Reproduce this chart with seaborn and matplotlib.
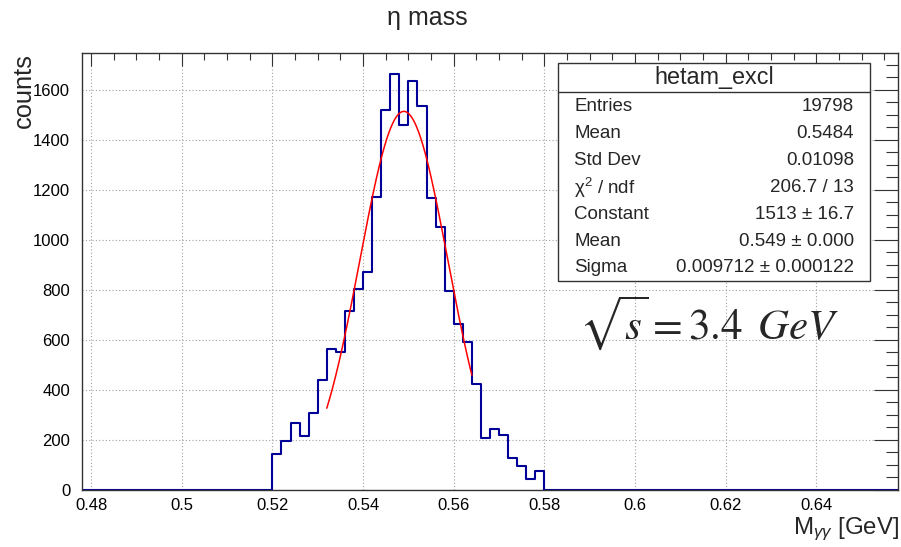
import numpy as np
import pandas as pd
import matplotlib
matplotlib.use("Agg")
import matplotlib.pyplot as plt
from matplotlib.patches import Rectangle
from matplotlib.lines import Line2D
from matplotlib.ticker import MultipleLocator
import seaborn as sns

# ---- data ----
bin_centers = [0.521, 0.523, 0.525, 0.527, 0.529, 0.531, 0.533, 0.535, 0.537, 0.539,
               0.541, 0.543, 0.545, 0.547, 0.549, 0.551, 0.553, 0.555, 0.557, 0.559,
               0.561, 0.563, 0.565, 0.567, 0.569, 0.571, 0.573, 0.575, 0.577, 0.579]
counts = [143, 196, 267, 216, 307, 440, 565, 553, 717, 805,
          872, 1172, 1520, 1663, 1460, 1633, 1533, 1167, 1049, 796,
          663, 593, 423, 209, 244, 220, 127, 97, 44, 77]
hist_range = (0.478, 0.658)
bin_width = 0.002

fit_constant = 1513
fit_mean = 0.549
fit_sigma = 0.009712
fit_range = (0.532, 0.564)

stats_title = "hetam_excl"
stats_labels = ["Entries", "Mean", "Std Dev", "\u03c7$^{2}$ / ndf", "Constant", "Mean", "Sigma"]
stats_values = ["19798", "0.5484", "0.01098", "206.7 / 13", "1513 \u00b1 16.7",
                "0.549 \u00b1 0.000", "0.009712 \u00b1 0.000122"]

# ---- style ----
sns.set_style("white")
plt.rcParams["font.family"] = ["Liberation Sans", "DejaVu Sans"]
plt.rcParams["mathtext.fontset"] = "custom"
plt.rcParams["mathtext.rm"] = "Liberation Sans"
plt.rcParams["mathtext.it"] = "Liberation Sans:italic"

W, H = 901, 547
fig = plt.figure(figsize=(W / 100, H / 100), dpi=100)
L, R, T, B = 82, 898, 53, 490
ax = fig.add_axes([L / W, 1 - B / H, (R - L) / W, (B - T) / H])

df = pd.DataFrame({"mass": bin_centers, "counts": counts})
sns.histplot(data=df, x="mass", weights="counts", binwidth=bin_width,
             binrange=hist_range, element="step",
             fill=False, color="#000099", linewidth=1.5, ax=ax)

xf = np.linspace(fit_range[0], fit_range[1], 200)
yf = fit_constant * np.exp(-0.5 * ((xf - fit_mean) / fit_sigma) ** 2)
sns.lineplot(x=xf, y=yf, color="#ff0000", linewidth=1.1, ax=ax, sort=False)

ax.set_xlim(*hist_range)
ax.set_ylim(0, max(counts) * 1.05)
ax.xaxis.set_major_locator(MultipleLocator(0.02))
ax.xaxis.set_minor_locator(MultipleLocator(0.005))
ax.yaxis.set_major_locator(MultipleLocator(200))
ax.yaxis.set_minor_locator(MultipleLocator(50))
ax.xaxis.set_major_formatter(matplotlib.ticker.FuncFormatter(lambda v, p: f"{v:g}"))
ax.tick_params(which="both", direction="in", top=True, right=True, colors="#333333",
               labelcolor="black", labelsize=12)
ax.tick_params(axis="x", which="major", length=9.4, width=0.8, pad=6)
ax.tick_params(axis="x", which="minor", length=4.7, width=0.8)
ax.tick_params(axis="y", which="major", length=17, width=0.8, pad=8.5)
ax.tick_params(axis="y", which="minor", length=8.6, width=0.8)
ax.grid(True, which="major", color="#a0a0a0", linestyle=(0, (1, 2)), linewidth=0.8)
for s in ax.spines.values():
    s.set_color("#333333")
    s.set_linewidth(1.0)
ax.set_xlabel("")
ax.set_ylabel("")

# titles
fig.text(427 / W, 1 - 18 / H, "\u03b7 mass", ha="center", va="center", fontsize=18)
fig.text(899 / W, 1 - 529 / H, r"M$_{\gamma\gamma}$ [GeV]", ha="right", va="center", fontsize=17.3)
fig.text(24 / W, 1 - 53 / H, "counts", ha="center", va="top", rotation=90, fontsize=18.3)

# stats box
bx0, bx1, by0, by1, bsep = 558, 870, 63, 281, 92
fig.patches.append(Rectangle((bx0 / W, 1 - by1 / H), (bx1 - bx0) / W, (by1 - by0) / H,
                             transform=fig.transFigure, facecolor="white",
                             edgecolor="#333333", linewidth=1.0, zorder=5))
fig.lines.append(Line2D([bx0 / W, bx1 / W], [1 - bsep / H, 1 - bsep / H],
                        transform=fig.transFigure, color="#333333", linewidth=1.0, zorder=6))
fig.text((bx0 + bx1) / 2 / W, 1 - 77.5 / H, stats_title, ha="center", va="center",
         fontsize=16.8, zorder=7)
row_y = [106.5, 133.5, 160.5, 187.5, 214.5, 241.5, 268]
for lab, val, y in zip(stats_labels, stats_values, row_y):
    fig.text(574 / W, 1 - y / H, lab, ha="left", va="center", fontsize=13.5, zorder=7)
    fig.text(854 / W, 1 - y / H, val, ha="right", va="center", fontsize=13.5, zorder=7)

# energy label
fig.text(579 / W, 1 - 339 / H, r"$\sqrt{s} = 3.4\ \,GeV$", ha="left", va="baseline",
         fontsize=31, math_fontfamily="stix")

fig.savefig("out.png", dpi=100)
